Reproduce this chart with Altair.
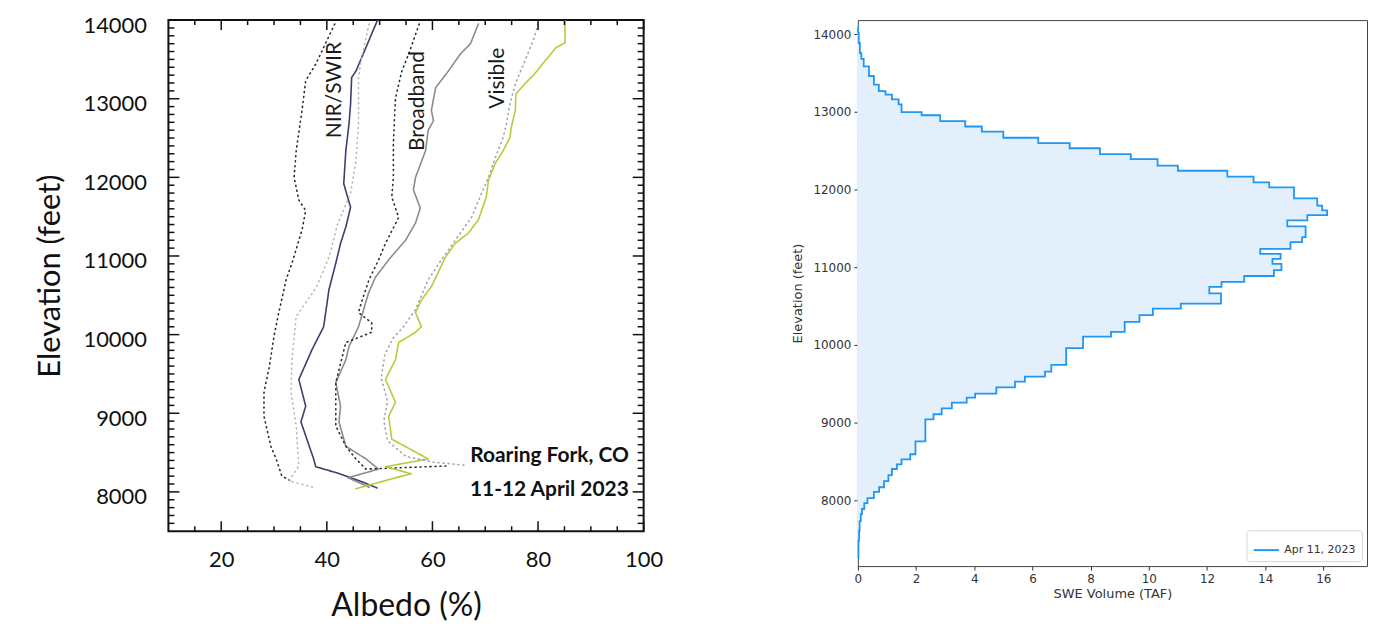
import altair as alt
import pandas as pd

# ---------------- left panel: albedo profiles ----------------
SERIES = ["NIR/SWIR", "NIR/SWIR dotted", "NIR light dotted", "Broadband", "Broadband dotted",
          "Visible", "Visible dotted"]

NIR_ALB = [49.6, 47.4, 45.5, 44.7, 44.5, 44.2, 43.6, 43.2, 44.5, 43.6, 42.6, 41.7, 40.4, 39.4,
           37.2, 34.7, 36.0, 35.1, 37.5, 37.9, 42.0, 46.6, 49.5]
NIR_ELEV = [14000, 13650, 13350, 13270, 12940, 12680, 12340, 11920, 11620, 11370, 11160, 10910,
            10570, 10100, 9810, 9430, 9090, 8890, 8420, 8320, 8240, 8130, 8050]

NIRD_ALB = [41.5, 37.9, 36.0, 35.3, 34.2, 33.8, 34.7, 36.0, 35.3, 33.4, 32.3, 30.9, 30.0, 29.1,
            28.1, 28.1, 29.4, 30.4, 31.5, 33.4]
NIRD_ELEV = [13950, 13440, 13230, 12850, 12340, 12000, 11710, 11580, 11330, 10910, 10700, 10280,
             9980, 9590, 9270, 8960, 8580, 8420, 8200, 8130]

NIRL_ALB = [48.0, 46.5, 46.0, 46.0, 45.5, 44.5, 42.0, 40.5, 38.0, 34.2, 33.4, 33.2, 34.2, 34.7,
            32.8, 38.0]
NIRL_ELEV = [13950, 13500, 13270, 12680, 12200, 11800, 11400, 11000, 10600, 10230, 9680, 9270,
             8840, 8330, 8140, 8050]

BB_ALB = [68.7, 67.2, 65.3, 63.0, 60.6, 59.8, 60.2, 59.2, 58.7, 56.8, 56.4, 57.7, 56.8, 54.9,
          51.7, 49.2, 47.9, 46.0, 44.2, 43.6, 41.7, 42.6, 42.3, 43.6, 47.4, 49.8, 44.0, 48.0]
BB_ELEV = [13950, 13700, 13570, 13350, 13140, 12850, 12720, 12600, 12340, 12000, 11840, 11610,
           11420, 11200, 10950, 10730, 10530, 10100, 9850, 9680, 9390, 9090, 8890, 8580, 8420,
           8290, 8180, 8060]

BBD_ALB = [57.5, 55.5, 54.2, 53.0, 52.6, 52.6, 52.3, 53.6, 51.1, 49.8, 48.0, 46.5, 46.0, 48.5,
           48.5, 43.6, 41.7, 41.7, 43.6, 45.5, 47.4, 55.0, 63.0]
BBD_ELEV = [13950, 13570, 13350, 13010, 12430, 12000, 11750, 11490, 11160, 10950, 10700, 10400,
            10280, 10150, 10030, 9900, 9390, 8840, 8580, 8420, 8290, 8310, 8330]

VIS_ALB = [85.1, 85.1, 83.4, 81.3, 79.4, 77.5, 75.8, 75.7, 74.9, 74.7, 73.4, 71.9, 70.6, 70.2,
           68.7, 66.8, 64.3, 62.5, 59.8, 57.9, 56.8, 57.9, 56.8, 53.6, 53.0, 51.1, 53.0, 51.7,
           52.3, 59.2, 51.1, 56.0, 53.6, 45.5]
VIS_ELEV = [14000, 13710, 13650, 13480, 13320, 13190, 13060, 12850, 12630, 12510, 12340, 12180,
            11960, 11750, 11460, 11290, 11160, 10990, 10610, 10440, 10280, 10100, 10030, 9900,
            9680, 9430, 9140, 8960, 8670, 8420, 8320, 8230, 8190, 8040]

VISD_ALB = [80.0, 79.4, 77.5, 75.7, 74.7, 74.0, 73.4, 71.9, 70.6, 69.0, 67.4, 64.3, 61.7, 59.2,
            56.8, 54.5, 52.5, 51.0, 50.3, 51.5, 50.8, 51.5, 55.0, 60.0, 66.0]
VISD_ELEV = [13950, 13800, 13480, 13190, 12940, 12680, 12510, 12250, 12000, 11750, 11490, 11200,
             10950, 10700, 10320, 10100, 9950, 9750, 9450, 9150, 8900, 8650, 8450, 8380, 8340]

SERIES_DATA = [
    ("NIR/SWIR", NIR_ALB, NIR_ELEV),
    ("NIR/SWIR dotted", NIRD_ALB, NIRD_ELEV),
    ("NIR light dotted", NIRL_ALB, NIRL_ELEV),
    ("Broadband", BB_ALB, BB_ELEV),
    ("Broadband dotted", BBD_ALB, BBD_ELEV),
    ("Visible", VIS_ALB, VIS_ELEV),
    ("Visible dotted", VISD_ALB, VISD_ELEV),
]
LINE_COLORS = ["#3b3f6e", "#2a2a2a", "#b8b8b8", "#8c8c8c", "#2a2a2a", "#b7cc3c", "#9ea3b8"]
LINE_DASH = [[1, 0], [1, 4], [1, 4], [1, 0], [1, 4], [1, 0], [1, 4]]
LINE_WIDTH = [1.6, 1.6, 1.5, 1.3, 1.6, 1.6, 1.5]

LABEL_TEXT = ["NIR/SWIR", "Broadband", "Visible"]
LABEL_ALB = [41.5, 57.2, 72.5]
LABEL_ELEV = [13110, 12970, 13260]

SITE_TEXT = ["Roaring Fork, CO", "11-12 April 2023"]
SITE_ALB = [97.2, 97.2]
SITE_ELEV = [8450, 8030]

X_TICKS_L = [20, 40, 60, 80, 100]
Y_TICKS_L = [8000, 9000, 10000, 11000, 12000, 13000, 14000]
X_MINOR_L = [v for v in range(15, 100, 5) if v % 20 != 0]
Y_MINOR_L = [v for v in range(7600, 14000, 100) if v % 1000 != 0]

# ---------------- right panel: SWE volume histogram ----------------
EDGES = [7255, 7475, 7605, 7730, 7820, 7885, 7960, 8025, 8105, 8165, 8245, 8320, 8400, 8460,
         8525, 8590, 8755, 9040, 9105, 9180, 9255, 9320, 9370, 9450, 9525, 9590, 9655, 9740,
         9955, 10105, 10165, 10295, 10380, 10465, 10530, 10660, 10745, 10810, 10885, 10960,
         11040, 11105, 11170, 11235, 11320, 11385, 11525, 11600, 11670, 11730, 11790, 11885,
         12025, 12090, 12165, 12240, 12305, 12390, 12455, 12530, 12595, 12665, 12745, 12810,
         12880, 12955, 12995, 13095, 13160, 13220, 13265, 13350, 13460, 13585, 13680, 13755,
         13885, 14015, 14105]
SWE = [0.02, 0.04, 0.06, 0.10, 0.14, 0.22, 0.33, 0.55, 0.73, 0.90, 1.05, 1.17, 1.34, 1.50,
       1.80, 1.98, 2.32, 2.60, 2.88, 3.23, 3.74, 4.03, 4.76, 5.40, 5.74, 6.43, 6.65, 7.16,
       7.74, 8.70, 9.17, 9.68, 10.14, 11.10, 12.48, 12.08, 12.50, 13.28, 14.30, 14.56, 14.25,
       14.53, 13.83, 14.87, 15.27, 15.39, 14.76, 15.45, 16.13, 15.96, 15.79, 14.99, 14.14,
       13.60, 12.70, 11.00, 10.30, 9.38, 8.32, 7.28, 6.20, 5.00, 4.26, 3.69, 2.83, 2.19, 1.50,
       1.40, 1.17, 0.95, 0.72, 0.55, 0.38, 0.20, 0.12, 0.07, 0.03, 0.01]
SWE_LABEL = "Apr 11, 2023"
X_TICKS_R = [0, 2, 4, 6, 8, 10, 12, 14, 16]
Y_TICKS_R = [8000, 9000, 10000, 11000, 12000, 13000, 14000]

# ---------------- build left chart ----------------
WL, HL = 477, 513
rows = []
for name, alb, elev in SERIES_DATA:
    for i, (a, e) in enumerate(zip(alb, elev)):
        rows.append({"series": name, "albedo": a, "elev": e, "idx": i})
df_lines = pd.DataFrame(rows)

FONT_L = "Lato"
x_scale_l = alt.Scale(domain=[10, 100], nice=False, zero=False)
y_scale_l = alt.Scale(domain=[7500, 14000], nice=False, zero=False)
x_axis_l = alt.Axis(values=X_TICKS_L, ticks=False, domain=False, grid=False, labelFont=FONT_L,
                    labelFontSize=22, labelColor="#111", labelPadding=18, labelFlush=False,
                    title="Albedo (%)", titleFont=FONT_L, titleFontSize=32,
                    titleFontWeight="normal", titleColor="#111", titlePadding=21)
y_axis_l = alt.Axis(values=Y_TICKS_L, format="d", ticks=False, domain=False, grid=False,
                    labelFont=FONT_L, labelFontSize=22, labelColor="#111", labelPadding=22,
                    labelOffset=5, title="Elevation (feet)", titleFont=FONT_L, titleFontSize=31,
                    titleFontWeight="normal", titleColor="#111", titlePadding=17)

X_L = lambda f: alt.X(f, type="quantitative", scale=x_scale_l, axis=x_axis_l)
Y_L = lambda f: alt.Y(f, type="quantitative", scale=y_scale_l, axis=y_axis_l)

lines = alt.Chart(df_lines).mark_line(strokeCap="round", strokeJoin="round", clip=True).encode(
    x=X_L("albedo"), y=Y_L("elev"),
    color=alt.Color("series:N", scale=alt.Scale(domain=SERIES, range=LINE_COLORS), legend=None),
    strokeDash=alt.StrokeDash("series:N", scale=alt.Scale(domain=SERIES, range=LINE_DASH), legend=None),
    strokeWidth=alt.StrokeWidth("series:N", scale=alt.Scale(domain=SERIES, range=LINE_WIDTH), legend=None),
    order=alt.Order("idx:Q"),
    detail="series:N",
)

df_lab = pd.DataFrame({"text": LABEL_TEXT, "albedo": LABEL_ALB, "elev": LABEL_ELEV})
band_labels = alt.Chart(df_lab).mark_text(angle=270, font=FONT_L, fontSize=21, color="#1a1a1a",
                                          align="center", baseline="middle").encode(
    x=X_L("albedo"), y=Y_L("elev"), text="text:N")

df_site = pd.DataFrame({"text": SITE_TEXT, "albedo": SITE_ALB, "elev": SITE_ELEV})
site_labels = alt.Chart(df_site).mark_text(font=FONT_L, fontSize=21, fontWeight="bold",
                                           color="#111", align="right", baseline="middle").encode(
    x=X_L("albedo"), y=Y_L("elev"), text="text:N")


def tick_layer(vals, axis, side, length):
    if axis == "y":
        d = pd.DataFrame({"elev": vals})
        x0, x1 = (0, length) if side == "left" else (WL, WL - length)
        return alt.Chart(d).mark_rule(color="#111", strokeWidth=1.5).encode(
            y=Y_L("elev"), x=alt.value(x0), x2=alt.value(x1))
    d = pd.DataFrame({"albedo": vals})
    y0, y1 = (HL, HL - length) if side == "bottom" else (0, length)
    return alt.Chart(d).mark_rule(color="#111", strokeWidth=1.5).encode(
        x=X_L("albedo"), y=alt.value(y0), y2=alt.value(y1))


tick_layers = [
    tick_layer(Y_TICKS_L, "y", "left", 11), tick_layer(Y_MINOR_L, "y", "left", 6),
    tick_layer(Y_TICKS_L, "y", "right", 11), tick_layer(Y_MINOR_L, "y", "right", 6),
    tick_layer(X_TICKS_L, "x", "bottom", 10), tick_layer(X_MINOR_L, "x", "bottom", 5),
    tick_layer(X_TICKS_L, "x", "top", 10), tick_layer(X_MINOR_L, "x", "top", 5),
]

left = alt.layer(lines, band_labels, site_labels, *tick_layers).properties(
    width=WL, height=HL,
    view=alt.ViewBackground(stroke="#111", strokeWidth=2, fill="white"))

# ---------------- build right chart ----------------
WR, HR = 511, 548
df_bins = pd.DataFrame({"lo": EDGES[:-1], "hi": EDGES[1:], "vol": SWE})

pts = [{"vol": 0.0, "elev": EDGES[0], "idx": 0}]
for i, v in enumerate(SWE):
    pts.append({"vol": v, "elev": EDGES[i], "idx": i + 1})
pts.append({"vol": SWE[-1], "elev": EDGES[-1], "idx": len(SWE) + 1})
pts.append({"vol": 0.0, "elev": EDGES[-1], "idx": len(SWE) + 2})
df_hist = pd.DataFrame(pts)
df_hist["label"] = SWE_LABEL

FONT_R = "DejaVu Sans"
x_scale_r = alt.Scale(domain=[0, 17.5], nice=False, zero=False)
y_scale_r = alt.Scale(domain=[7150, 14180], nice=False, zero=False)
x_axis_r = alt.Axis(values=X_TICKS_R, tickSize=4, tickColor="#333", domain=False, grid=False,
                    labelFont=FONT_R, labelFontSize=12, labelColor="#333", labelPadding=3,
                    labelFlush=False, title="SWE Volume (TAF)", titleFont=FONT_R,
                    titleFontSize=13, titleFontWeight="normal", titleColor="#333", titlePadding=4)
y_axis_r = alt.Axis(values=Y_TICKS_R, format="d", tickSize=4, tickColor="#333", domain=False,
                    grid=False, labelFont=FONT_R, labelFontSize=12, labelColor="#333",
                    labelPadding=3, title="Elevation (feet)", titleFont=FONT_R, titleFontSize=13,
                    titleFontWeight="normal", titleColor="#333", titlePadding=8)

fill = alt.Chart(df_bins).mark_rect(color="#e3f0fc", stroke="#e3f0fc", strokeWidth=0.8).encode(
    x=alt.X("vol:Q", scale=x_scale_r, axis=x_axis_r),
    x2=alt.datum(0),
    y=alt.Y("lo:Q", scale=y_scale_r, axis=y_axis_r),
    y2="hi:Q")

step = alt.Chart(df_hist).mark_line(interpolate="step-before", strokeWidth=1.8).encode(
    x=alt.X("vol:Q", scale=x_scale_r, axis=x_axis_r),
    y=alt.Y("elev:Q", scale=y_scale_r, axis=y_axis_r),
    order=alt.Order("idx:Q"),
    color=alt.Color("label:N", scale=alt.Scale(domain=[SWE_LABEL], range=["#2196f3"]),
                    legend=alt.Legend(orient="bottom-right", title=None, symbolType="stroke",
                                      symbolSize=650, symbolStrokeWidth=2, labelFont=FONT_R,
                                      labelFontSize=11, labelColor="#333", padding=6,
                                      cornerRadius=3, strokeColor="#d5d5d5", fillColor="white",
                                      offset=5)))

right = alt.layer(fill, step).properties(
    width=WR, height=HR,
    view=alt.ViewBackground(stroke="#444", strokeWidth=1))

chart = alt.hconcat(left, right, spacing=127).resolve_scale(
    color="independent", strokeDash="independent", strokeWidth="independent"
).resolve_legend(color="independent").properties(
    padding={"left": 25, "top": 4, "right": 0, "bottom": 0},
    background="white",
)

chart.save("out.html", embed_options={"renderer": "svg", "actions": False})
